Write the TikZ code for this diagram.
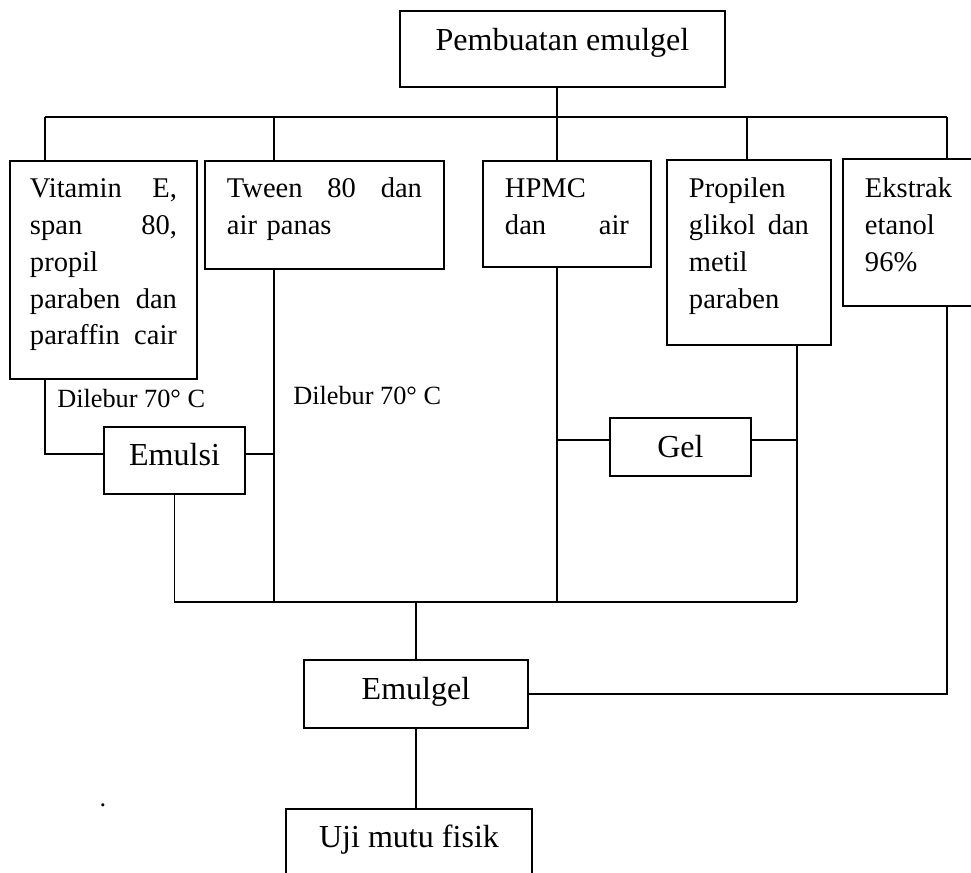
\documentclass[tikz,border=0pt]{standalone}
\usepackage{fontspec}
\setmainfont{Liberation Serif}
\newcommand{\bigtxt}{\fontsize{22.8}{27}\selectfont}
\newcommand{\boxtxt}{\fontsize{20.3}{26.1}\selectfont}
\newcommand{\lbltxt}{\fontsize{18.7}{22}\selectfont}

\begin{document}
\begin{tikzpicture}[y=-1cm,
  stepbox/.style={draw, line width=1.4pt, anchor=north west, inner ysep=0pt, inner xsep=0.55cm, align=left, font=\boxtxt},
  smallbox/.style={draw, line width=1.4pt, anchor=north west, inner sep=0pt, font=\bigtxt},
  link/.style={line width=0.9pt}]

\useasboundingbox (0,0) rectangle (24.275,21.825);

% boxes:
\node[smallbox, minimum width=8.125cm, text height=1cm, text depth=0.9cm] (top) at (9.975,0.25) {Pembuatan emulgel};
\node[stepbox, inner xsep=0.5cm, text width=3.675cm, text height=0.925cm, text depth=4.525cm] (b1) at (0.225,4.0) {Vitamin \hfill E,\\ span \hfill 80,\\ propil\\ paraben \hfill dan\\ paraffin \hfill cair};
\node[stepbox, text width=4.875cm, text height=0.925cm, text depth=1.775cm] (b2) at (5.1,4.0) {Tween \hfill 80 \hfill dan\\ air panas};
\node[stepbox, text width=3.1cm, text height=0.925cm, text depth=1.725cm] (b3) at (12.05,4.0) {HPMC\\ dan \hfill air};
\node[stepbox, text width=3.0cm, text height=0.95cm, text depth=3.675cm] (b4) at (16.65,3.975) {Propilen\\ glikol \hfill dan\\ metil\\ paraben};
\node[stepbox, text width=2.5cm, text height=0.975cm, text depth=2.7cm] (b5) at (21.05,3.95) {Ekstrak\\ etanol\\ 96\%};
\node[smallbox, minimum width=3.525cm, text height=0.975cm, text depth=0.7cm] (emulsi) at (2.575,10.65) {Emulsi};
\node[smallbox, minimum width=3.525cm, text height=1cm, text depth=0.45cm] (gel) at (15.225,10.425) {Gel};
\node[smallbox, minimum width=5.6cm, text height=1cm, text depth=0.7cm] (emulgel) at (7.575,16.475) {Emulgel};
\node[smallbox, minimum width=6.15cm, text height=0.975cm, text depth=1.2cm] (uji) at (7.125,20.2) {Uji mutu fisik};

% labels:
\node[anchor=base west, inner sep=0pt, font=\lbltxt] (lbl1) at (1.425,10.175) {Dilebur 70° C};
\node[anchor=base west, inner sep=0pt, font=\lbltxt] (lbl2) at (7.325,10.1) {Dilebur 70° C};
\node[anchor=base, inner sep=0pt, font=\lbltxt] (dot) at (2.575,20.15) {.};

% junctions:
\coordinate (bar-l) at (1.125,2.925);
\coordinate (twn) at (6.85,2.925);
\coordinate (mid) at (13.925,2.925);
\coordinate (prp) at (18.675,2.925);
\coordinate (bar-r) at (23.675,2.925);
\coordinate (bot-r) at (19.925,15.05);
\coordinate (emu-l) at ([yshift=0.1625cm]emulsi.west);
\coordinate (emu-r) at ([yshift=0.1625cm]emulsi.east);
\coordinate (gel-l) at ([yshift=0.175cm]gel.west);
\coordinate (gel-r) at ([yshift=0.175cm]gel.east);

% top tree:
\draw[link] (top.south -| mid) -- (b3.north -| mid);
\draw[link] (bar-l) -- (bar-r);
\draw[link] (bar-l) -- (b1.north -| bar-l);
\draw[link] (twn) -- (b2.north -| twn);
\draw[link] (prp) -- (b4.north -| prp);
\draw[link] (bar-r) -- (b5.north -| bar-r);

% emulsi and gel:
\draw[link] (b1.south -| bar-l) |- (emu-l);
\draw[link] (emu-r) -- (emu-r -| twn);
\draw[link] (b2.south -| twn) -- (twn |- bot-r);
\draw[link] (emulsi.south) -- (emulsi.south |- bot-r);
\draw[link] (b3.south -| mid) -- (mid |- bot-r);
\draw[link] (gel-l -| mid) -- (gel-l);
\draw[link] (gel-r) -- (gel-r -| bot-r);
\draw[link] (b4.south -| bot-r) -- (bot-r);
\draw[link] (emulsi.south |- bot-r) -- (bot-r);

% emulgel:
\draw[link] (emulgel.north |- bot-r) -- (emulgel.north);
\draw[link] (b5.south -| bar-r) |- (emulgel.east);
\draw[link] (emulgel.south) -- (emulgel.south |- uji.north);

\end{tikzpicture}
\end{document}
